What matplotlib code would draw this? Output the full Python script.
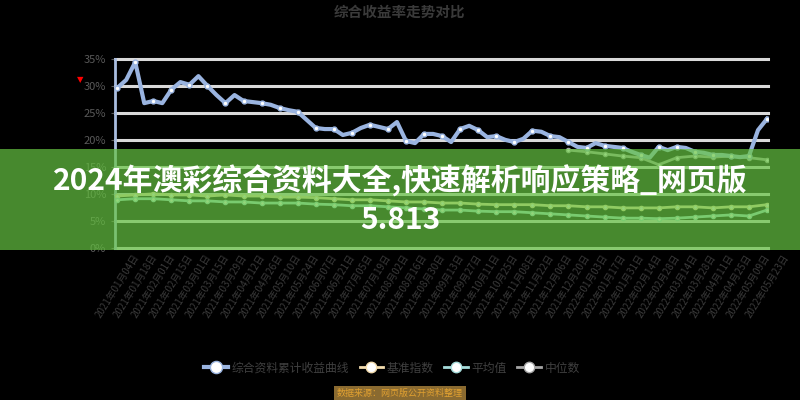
import datetime
import numpy as np
import matplotlib
matplotlib.use('Agg')
import matplotlib.pyplot as plt
from matplotlib.patches import Rectangle

plt.rcParams['font.family'] = ['Noto Sans CJK SC', 'DejaVu Sans']

# series values (%)
blue = [29.7, 31.2, 34.5, 26.9, 27.3, 26.9, 29.4, 30.8, 30.3, 31.9,
        30.1, 28.4, 26.9, 28.4, 27.3, 27.1, 26.9, 26.6, 26.0, 25.6,
        25.3, 23.8, 22.3, 22.1, 22.1, 21.0, 21.4, 22.3, 22.9, 22.5,
        22.1, 23.4, 19.9, 19.5, 21.2, 21.2, 20.8, 19.7, 22.1, 22.7,
        21.9, 20.6, 20.8, 20.1, 19.7, 20.3, 21.8, 21.6, 20.8, 20.6,
        19.7, 18.8, 18.6, 19.5, 19.0, 18.8, 18.6, 17.9, 17.3, 16.8,
        18.8, 18.2, 18.8, 18.6, 17.9, 17.7, 17.3, 17.3, 17.1, 16.9,
        17.1, 21.9, 24.0]
beige = [9.7, 9.9, 10.1, 9.9, 9.9, 9.7, 9.9, 9.7, 9.7, 9.5, 9.5, 9.4, 9.2,
         9.0, 9.0, 8.8, 8.6, 8.6, 8.4, 8.4, 8.2, 8.1, 8.1, 8.1, 7.9, 7.9,
         7.7, 7.7, 7.5, 7.5, 7.5, 7.7, 7.7, 7.5, 7.7, 7.7, 8.1]
teal = [9.0, 9.2, 9.2, 9.0, 8.8, 8.8, 8.6, 8.6, 8.4, 8.4, 8.4, 8.2, 8.1,
        7.9, 7.9, 7.7, 7.5, 7.3, 7.1, 7.1, 6.9, 6.8, 6.8, 6.6, 6.4, 6.2,
        6.0, 5.8, 5.6, 5.6, 5.5, 5.6, 5.8, 6.0, 6.2, 6.0, 7.1]
gray = [np.nan] * 25 + [18.2, 17.9, 17.5, 17.1, 16.8, 15.5, 16.8, 17.1,
                        16.9, 17.1, 16.8, 16.4]

names = ['综合资料累计收益曲线', '基准指数', '平均值', '中位数']
y_ticks = [0, 5, 10, 15, 20, 25, 30, 35]
y_labels = ['0%', '5%', '10%', '15%', '20%', '25%', '30%', '35%']
start = datetime.date(2021, 1, 4)
x_labels = [(start + datetime.timedelta(days=14 * k)).strftime('%Y年%m月%d日')
            for k in range(37)]

title = '综合收益率走势对比'
banner = '2024年澳彩综合资料大全,快速解析响应策略_网页版\n5.813'
source = '数据来源：网页版公开资料整理'

fig = plt.figure(figsize=(8, 4), dpi=100, facecolor='black')
ax = fig.add_axes([0.144, 0.379, 0.816, 0.4725], facecolor='black')

xb = np.arange(len(blue))
xs = np.arange(0, len(blue), 2)

ax.plot(xb, blue, '-o', color='#9ab4e0', lw=3, ms=3.5, mfc='white',
        mec='#9ab4e0', mew=1, markevery=2, label=names[0], zorder=5)
ax.plot(xs, beige, '-o', color='#f3dcae', lw=2, ms=3, mfc='white',
        mec='#f3dcae', mew=1, label=names[1], zorder=4)
ax.plot(xs, teal, '-o', color='#a6dcdb', lw=2, ms=3, mfc='white',
        mec='#a6dcdb', mew=1, label=names[2], zorder=4)
ax.plot(xs, gray, '-o', color='#a6a6a6', lw=2, ms=3, mfc='white',
        mec='#a6a6a6', mew=1, label=names[3], zorder=4)

ax.set_xlim(-0.22, 72.11)
ax.set_ylim(0, 35)
ax.set_yticks(y_ticks)
ax.set_yticklabels(y_labels)
ax.set_xticks(xs)
ax.set_xticklabels(x_labels, rotation=58, ha='center')
ax.tick_params(axis='y', colors='#595959', labelsize=8, length=3)
ax.tick_params(axis='x', colors='#3a3a3a', labelsize=7, length=0, pad=3)
ax.grid(axis='y', color='#d9d9d9', lw=2.2)
for l in ax.get_ygridlines():
    l.set_clip_on(False)
ax.set_axisbelow(True)
for s in ['top', 'right', 'bottom']:
    ax.spines[s].set_visible(False)
ax.spines['left'].set_color('#a9bde0')
ax.spines['left'].set_linewidth(2)

fig.text(0.5, 0.97, title, ha='center', va='center', fontsize=10.5,
         weight='bold', color='#3a3a3a')
fig.text(0.1, 0.8, '▼', ha='center', va='center', fontsize=6, color='red',
         family=['DejaVu Sans'])

leg = fig.legend(loc='center', bbox_to_anchor=(0.49, 0.08), ncol=4,
                 frameon=False, fontsize=8.5, labelcolor='#404040',
                 handlelength=2, columnspacing=0.9, handletextpad=0.3,
                 markerscale=2.5)

fig.text(0.5, 0.016, source, ha='center', va='center', fontsize=6.5,
         color='#e0a030',
         bbox=dict(boxstyle='square,pad=0.3', fc='#8a6a30', ec='none'))

fig.add_artist(Rectangle((0, 0.375), 1, 0.2525, transform=fig.transFigure,
                         color=(0.40, 0.77, 0.26), alpha=0.7, lw=0,
                         zorder=10))
fig.text(0.5, 0.5, banner, ha='center', va='center', fontsize=21.5,
         weight='bold', color='white', linespacing=1.35, zorder=11)

fig.savefig('out.png', dpi=100, facecolor='black')
